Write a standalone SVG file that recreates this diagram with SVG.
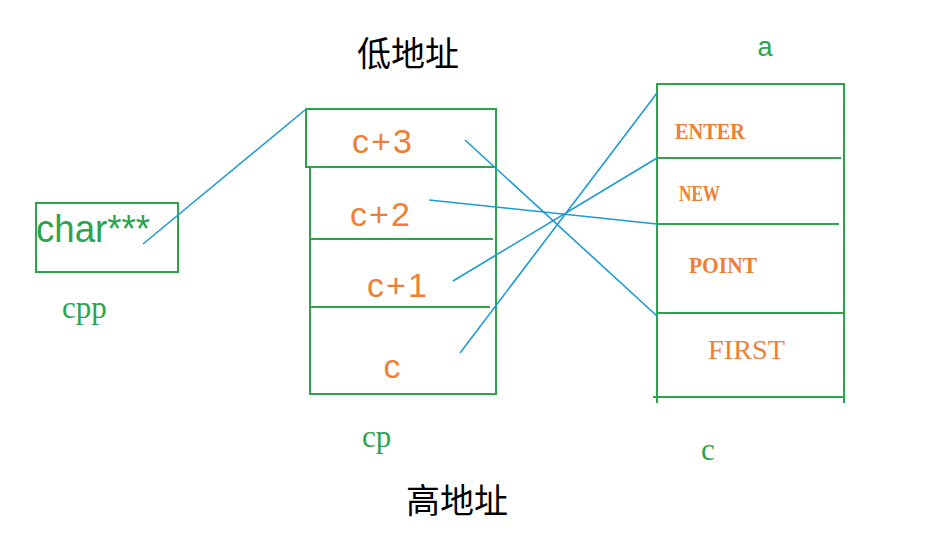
<svg xmlns="http://www.w3.org/2000/svg" width="948" height="551" viewBox="0 0 948 551">
<style>
.box{fill:none;stroke:#2ca44c;stroke-width:2}
.ln{stroke:#2ca44c;stroke-width:2}
.con{stroke:#1b9bd6;stroke-width:1.6;fill:none}
.or{fill:#ee7f35;font-family:"Liberation Sans",Arial,sans-serif;font-size:34px;text-anchor:middle}
.mono{fill:#ee7f35;font-family:"Liberation Serif",serif;font-size:24px;font-weight:bold}
.gs{fill:#2ca44c;font-family:"Liberation Serif",serif;font-size:31px}
.cn{fill:#000;font-family:"Noto Sans CJK SC",sans-serif;font-size:34px}
</style>
<rect width="948" height="551" fill="#fff"/>
<g id="cpp">
<rect class="box" x="36" y="203" width="142" height="69"/>
<text x="36" y="242" fill="#2ca44c" font-family="Liberation Sans,sans-serif" font-size="38" textLength="114" lengthAdjust="spacingAndGlyphs">char***</text>
<text class="gs" x="62" y="318">cpp</text>
</g>
<g id="cp">
<rect class="box" x="306" y="109" width="190" height="58"/>
<polyline class="box" points="310,167 310,394 496,394 496,167"/>
<line class="ln" x1="310" y1="239" x2="493" y2="239"/>
<line class="ln" x1="310" y1="307" x2="490" y2="307"/>
<text class="or" x="383" y="153" letter-spacing="2">c+3</text>
<text class="or" x="381" y="226" letter-spacing="2">c+2</text>
<text class="or" x="398" y="297" letter-spacing="2">c+1</text>
<text class="or" x="392" y="378">c</text>
<text class="gs" x="362" y="447">cp</text>
</g>
<g id="a">
<polyline class="box" points="657,403 657,84 844,84 844,403"/>
<line class="ln" x1="653" y1="397" x2="844" y2="397"/>
<line class="ln" x1="657" y1="158" x2="841" y2="158"/>
<line class="ln" x1="657" y1="224" x2="839" y2="224"/>
<line class="ln" x1="657" y1="313" x2="844" y2="313"/>
<text class="mono" x="675" y="139" textLength="70" lengthAdjust="spacingAndGlyphs">ENTER</text>
<text class="mono" x="679" y="201" textLength="41" lengthAdjust="spacingAndGlyphs">NEW</text>
<text class="mono" x="689" y="273" textLength="68" lengthAdjust="spacingAndGlyphs">POINT</text>
<text x="708" y="359" fill="#ee7f35" font-family="Liberation Serif,serif" font-size="28" textLength="77" lengthAdjust="spacingAndGlyphs">FIRST</text>
<text x="765" y="56" fill="#2ca44c" font-family="Liberation Sans,sans-serif" font-size="27" text-anchor="middle">a</text>
<text class="gs" x="708" y="460" text-anchor="middle">c</text>
</g>
<g id="labels">
<text class="cn" x="357" y="66">低地址</text>
<text class="cn" x="406" y="513">高地址</text>
</g>
<g id="connectors">
<line class="con" x1="143" y1="244" x2="305" y2="110"/>
<line class="con" x1="465" y1="140" x2="657" y2="316"/>
<line class="con" x1="429" y1="200" x2="657" y2="224"/>
<line class="con" x1="453" y1="281" x2="657" y2="158"/>
<line class="con" x1="460" y1="353" x2="657" y2="93"/>
</g>
</svg>
